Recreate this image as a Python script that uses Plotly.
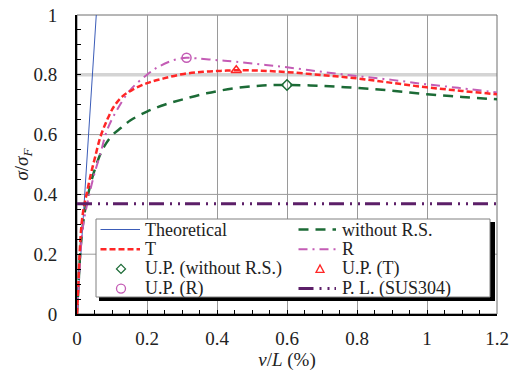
import plotly.graph_objects as go

# ---- data: deflection ratio v/L (%) and normalised stress sigma/sigma_F ----
theo_x = [0.0, 0.06]
theo_y = [0.0, 1.09]

t_x = [0.0, 0.004, 0.007, 0.013, 0.02, 0.028, 0.04, 0.052, 0.067, 0.086, 0.105,
       0.129, 0.157, 0.2, 0.248, 0.305, 0.36, 0.41, 0.455, 0.52, 0.6, 0.7, 0.8,
       0.9, 1.0, 1.1, 1.2]
t_y = [0.0, 0.10, 0.19, 0.30, 0.36, 0.404, 0.47, 0.526, 0.593, 0.649, 0.693,
       0.727, 0.749, 0.772, 0.788, 0.803, 0.81, 0.813, 0.815, 0.814, 0.809,
       0.799, 0.788, 0.773, 0.758, 0.746, 0.735]

wo_x = [0.0, 0.004, 0.008, 0.014, 0.022, 0.03, 0.04, 0.05, 0.065, 0.08, 0.1,
        0.125, 0.152, 0.2, 0.25, 0.3, 0.37, 0.45, 0.53, 0.6, 0.7, 0.8, 0.9,
        1.0, 1.1, 1.2]
wo_y = [0.0, 0.09, 0.18, 0.27, 0.34, 0.39, 0.44, 0.48, 0.53, 0.565, 0.597,
        0.622, 0.647, 0.677, 0.70, 0.717, 0.738, 0.755, 0.764, 0.766, 0.763,
        0.756, 0.747, 0.735, 0.726, 0.718]

r_x = [0.0, 0.005, 0.009, 0.018, 0.036, 0.05, 0.067, 0.086, 0.114, 0.152, 0.2,
       0.233, 0.276, 0.313, 0.342, 0.4, 0.451, 0.523, 0.6, 0.7, 0.8, 0.9, 1.0,
       1.1, 1.2]
r_y = [0.0, 0.10, 0.19, 0.30, 0.404, 0.47, 0.537, 0.615, 0.682, 0.749, 0.80,
       0.827, 0.849, 0.857, 0.855, 0.849, 0.844, 0.835, 0.825, 0.81, 0.796,
       0.783, 0.768, 0.755, 0.741]

# ultimate points
up_wo = (0.6, 0.766)
up_t = (0.455, 0.815)
up_r = (0.313, 0.857)

# proportional limit of SUS304
pl_x = [0.0, 1.2]
pl_level = 0.369

# horizontal grid levels (0.8 is drawn as a light, heavier band)
grid_y = [0.2, 0.4, 0.6]
band_y = 0.8

BLUE = "#3b5cb8"
RED = "#ff2626"
GREEN = "#1c6b36"
MAGENTA = "#c45cb5"
PURPLE = "#5c1f68"
GRID = "#9a9a9a"

DASH_T = "6px,3px"
DASH_WO = "10px,7px"
DASH_R = "9px,5px,2px,5px"
DASH_PL = "15px,6px,2px,6px,2px,5px"

FONT = "Liberation Serif, Times New Roman, Times, serif"
TXT = "#222222"

fig = go.Figure()
fig.add_trace(go.Scatter(x=theo_x, y=theo_y, mode="lines",
                         line=dict(color=BLUE, width=1)))
fig.add_trace(go.Scatter(x=wo_x, y=wo_y, mode="lines", line_shape="spline",
                         line=dict(color=GREEN, width=2.5, dash=DASH_WO)))
fig.add_trace(go.Scatter(x=r_x, y=r_y, mode="lines", line_shape="spline",
                         line=dict(color=MAGENTA, width=2, dash=DASH_R)))
fig.add_trace(go.Scatter(x=t_x, y=t_y, mode="lines", line_shape="spline",
                         line=dict(color=RED, width=2.5, dash=DASH_T)))
fig.add_trace(go.Scatter(x=pl_x, y=[pl_level] * len(pl_x), mode="lines",
                         line=dict(color=PURPLE, width=3, dash=DASH_PL)))
fig.add_trace(go.Scatter(x=[up_wo[0]], y=[up_wo[1]], mode="markers",
                         marker=dict(symbol="diamond-open", size=8, color=GREEN,
                                     line=dict(width=1.5))))
fig.add_trace(go.Scatter(x=[up_t[0]], y=[up_t[1]], mode="markers",
                         marker=dict(symbol="triangle-up-open", size=9, color=RED,
                                     line=dict(width=1.5))))
fig.add_trace(go.Scatter(x=[up_r[0]], y=[up_r[1]], mode="markers",
                         marker=dict(symbol="circle-open", size=9, color=MAGENTA,
                                     line=dict(width=1.5))))

# ---- plot-area geometry (pixels) ----
W, H = 516, 371
L, R, T, B = 77, 19, 15, 57
PW, PH = W - L - R, H - T - B


def px(xp):
    return (xp - L) / PW


def py(yp):
    return (H - B - yp) / PH


shapes = []
for g in grid_y:
    shapes.append(dict(type="line", xref="paper", yref="y", x0=0, x1=1, y0=g, y1=g,
                       line=dict(color=GRID, width=1), layer="between"))
shapes.append(dict(type="line", xref="paper", yref="y", x0=0, x1=1,
                   y0=band_y, y1=band_y,
                   line=dict(color="#d4d4d4", width=3.5), layer="between"))
# grey frame on top/right
shapes.append(dict(type="rect", xref="paper", yref="paper", x0=0, x1=1, y0=0, y1=1,
                   line=dict(color="#6e6e6e", width=1), layer="between"))

# legend box with drop shadow
shapes.append(dict(type="rect", xref="paper", yref="paper",
                   x0=px(99), x1=px(495), y0=py(301), y1=py(222),
                   fillcolor="black", line=dict(width=0), layer="above"))
shapes.append(dict(type="rect", xref="paper", yref="paper",
                   x0=px(96), x1=px(490), y0=py(297), y1=py(219),
                   fillcolor="white", line=dict(color="#808080", width=1),
                   layer="above"))

rows = [229.5, 249.2, 268.9, 288.6]
col1 = dict(l0=100.5, l1=140, m=121, tx=143)
col2 = dict(l0=298.5, l1=336, m=320, tx=340)

entries = [
    (col1, rows[0], "line", dict(color=BLUE, width=1, dash="solid"), "Theoretical"),
    (col2, rows[0], "line", dict(color=GREEN, width=2.5, dash=DASH_WO), "without R.S."),
    (col1, rows[1], "line", dict(color=RED, width=2.5, dash=DASH_T), "T"),
    (col2, rows[1], "line", dict(color=MAGENTA, width=2, dash=DASH_R), "R"),
    (col1, rows[2], "diamond", GREEN, "U.P. (without R.S.)"),
    (col2, rows[2], "triangle", RED, "U.P. (T)"),
    (col1, rows[3], "circle", MAGENTA, "U.P. (R)"),
    (col2, rows[3], "line", dict(color=PURPLE, width=3, dash=DASH_PL), "P. L. (SUS304)"),
]

annotations = []
for col, row, kind, style, label in entries:
    if kind == "line":
        shapes.append(dict(type="line", xref="paper", yref="paper",
                           x0=px(col["l0"]), x1=px(col["l1"]), y0=py(row), y1=py(row),
                           line=style, layer="above"))
    else:
        common = dict(xref="paper", yref="paper", xsizemode="pixel", ysizemode="pixel",
                      xanchor=px(col["m"]), yanchor=py(row),
                      line=dict(color=style, width=1.3), fillcolor="rgba(0,0,0,0)",
                      layer="above")
        if kind == "circle":
            shapes.append(dict(type="circle", x0=-4.5, x1=4.5, y0=-4.5, y1=4.5, **common))
        elif kind == "diamond":
            shapes.append(dict(type="path", path="M -4.5 0 L 0 4.5 L 4.5 0 L 0 -4.5 Z",
                               **common))
        else:
            shapes.append(dict(type="path", path="M -4 -3.5 L 4 -3.5 L 0 4 Z", **common))
    annotations.append(dict(xref="paper", yref="paper", x=px(col["tx"]), y=py(row),
                            xanchor="left", yanchor="middle", showarrow=False,
                            text=label, font=dict(family=FONT, size=18, color=TXT)))

axis_common = dict(
    automargin=False,
    zeroline=False,
    showline=True, linecolor="black", linewidth=2,
    ticks="inside", ticklen=4, tickcolor="black", tickwidth=1,
    tickfont=dict(family=FONT, size=19, color=TXT),
    minor=dict(dtick=0.05, ticks="inside", ticklen=4, tickcolor="black",
               tickwidth=1, showgrid=False),
)

fig.update_layout(
    width=W, height=H,
    margin=dict(l=L, r=R, t=T, b=B, pad=0, autoexpand=False),
    paper_bgcolor="white", plot_bgcolor="white",
    showlegend=False,
    font=dict(family=FONT, color=TXT),
    xaxis=dict(range=[0, 1.2], dtick=0.2, tick0=0, ticklabelstandoff=6,
               showgrid=True, gridcolor=GRID, gridwidth=1,
               title=dict(text="<i>v</i>/<i>L</i> (%)", standoff=0,
                          font=dict(family=FONT, size=19, color=TXT)),
               **axis_common),
    yaxis=dict(range=[0, 1], dtick=0.2, tick0=0, ticklabelstandoff=14,
               showgrid=False,
               title=dict(text="<i>σ</i>/<i>σ</i><sub><i>F</i></sub>", standoff=0,
                          font=dict(family=FONT, size=19, color=TXT)),
               **axis_common),
    shapes=shapes,
    annotations=annotations,
)

fig.write_html("out.html")
